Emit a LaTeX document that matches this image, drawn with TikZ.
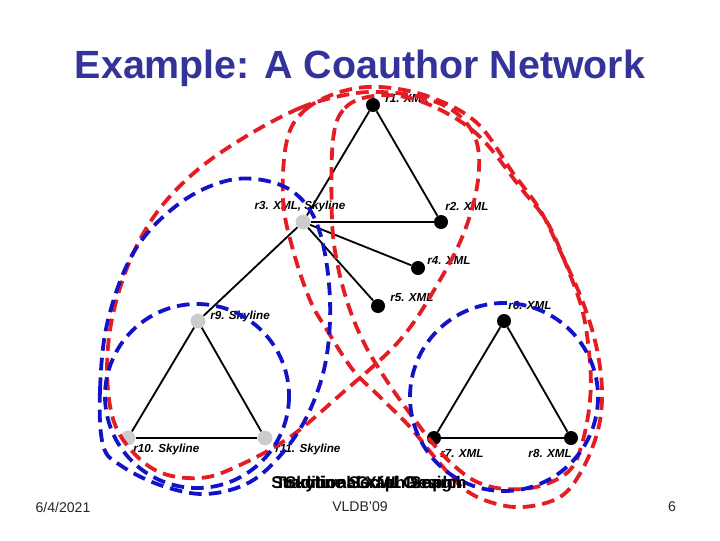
\documentclass[tikz,border=0pt]{standalone}
\usepackage{fontspec}
\setmainfont{Liberation Sans}
\usepackage{xcolor}
\usepackage{tikz}
\usetikzlibrary{positioning}

\definecolor{titleblue}{RGB}{51,51,153}
\definecolor{grpred}{RGB}{228,28,36}
\definecolor{grpblue}{RGB}{18,18,200}

\begin{document}
\begin{tikzpicture}[x=0.025cm, y=-0.025cm,
        xmlnode/.style={circle, fill=black, minimum size=0.35cm, inner sep=0pt},
        skynode/.style={circle, fill=black!20, minimum size=0.37cm, inner sep=0pt},
        lbl/.style={font=\fontsize{8.3}{9}\selectfont\bfseries\itshape, inner sep=0pt},
        edge/.style={line width=1.3pt},
        redgrp/.style={draw=grpred, line width=2.7pt, dash pattern=on 9pt off 5pt},
        bluegrp/.style={draw=grpblue, line width=2.7pt, dash pattern=on 9pt off 5pt},
        foot/.style={font=\fontsize{10}{12}\selectfont, text=black!85},
        mixtxt/.style={font=\fontsize{12}{14}\selectfont\bfseries},
    ]
    \useasboundingbox[fill=white] (0,0) rectangle (720,540);

    \node[font=\fontsize{28}{32}\selectfont\bfseries, text=titleblue] (title) at (360,68) {Example: A Coauthor Network};

    % authors
    \node[xmlnode] (r1) at (373,105) {};
    \node[xmlnode] (r2) at (441,222) {};
    \node[skynode] (r3) at (303,222) {};
    \node[xmlnode] (r4) at (418,268) {};
    \node[xmlnode] (r5) at (378,306) {};
    \node[xmlnode] (r6) at (504,321) {};
    \node[xmlnode] (r7) at (434,438) {};
    \node[xmlnode] (r8) at (571,438) {};
    \node[skynode] (r9) at (198,321) {};
    \node[skynode] (r10) at (128,438) {};
    \node[skynode] (r11) at (265,438) {};

    \node[lbl, anchor=west] (l1) at ([shift={(12,-7)}]r1) {r1. XML};
    \node[lbl, anchor=west] (l2) at ([shift={(4,-16)}]r2) {r2. XML};
    \node[lbl] (l3) at ([shift={(-3,-16)}]r3) {r3. XML, Skyline};
    \node[lbl, anchor=west] (l4) at ([shift={(9,-8)}]r4) {r4. XML};
    \node[lbl, anchor=west] (l5) at ([shift={(12,-8)}]r5) {r5. XML};
    \node[lbl, anchor=west] (l6) at ([shift={(4,-16)}]r6) {r6. XML};
    \node[lbl, anchor=west] (l7) at ([shift={(6,15)}]r7) {r7. XML};
    \node[lbl, anchor=east] (l8) at ([shift={(1,15)}]r8) {r8. XML};
    \node[lbl, anchor=west] (l9) at ([shift={(12,-5)}]r9) {r9. Skyline};
    \node[lbl, anchor=west] (l10) at ([shift={(5,11)}]r10) {r10. Skyline};
    \node[lbl, anchor=west] (l11) at ([shift={(10,11)}]r11) {r11. Skyline};

    % coauthor links
    \draw[edge] (r1) -- (r2);
    \draw[edge] (r1) -- (r3);
    \draw[edge] (r3) -- (r2);
    \draw[edge] (r3) -- (r4);
    \draw[edge] (r3) -- (r5);
    \draw[edge] (r3) -- (r9);
    \draw[edge] (r9) -- (r10);
    \draw[edge] (r9) -- (r11);
    \draw[edge] (r10) -- (r11);
    \draw[edge] (r6) -- (r7);
    \draw[edge] (r6) -- (r8);
    \draw[edge] (r7) -- (r8);

    % result groups
    \draw[redgrp] plot[smooth cycle, tension=0.6] coordinates {
        (345,95) (300,108) (245,137) (195,172) (155,215) (127,268) (110,330)
        (108,390) (120,435) (155,470) (200,478) (240,465) (290,437) (340,395)
        (400,340) (440,280) (465,230) (478,180) (476,140) (455,112) (420,97) (380,92)};
    \draw[redgrp] plot[smooth cycle, tension=0.6] coordinates {
        (287,140) (305,110) (340,92) (380,87) (430,97) (477,123) (513,173)
        (540,210) (562,255) (582,300) (596,345) (602,390) (598,430) (582,470)
        (560,497) (523,507) (490,502) (463,488) (437,460) (410,427) (380,397)
        (353,370) (327,330) (310,300) (293,250) (283,200)};
    \draw[redgrp] plot[smooth cycle, tension=0.6] coordinates {
        (333,140) (345,108) (373,96) (410,98) (450,115) (483,140) (520,187)
        (547,222) (567,267) (583,313) (590,363) (590,400) (583,440) (570,470)
        (540,486) (505,489) (475,481) (450,462) (430,440) (415,420) (400,400)
        (383,375) (365,345) (350,310) (338,267) (332,220)};
    \draw[bluegrp] plot[smooth cycle, tension=0.6] coordinates {
        (103,445) (100,390) (108,320) (135,250) (180,203) (230,180) (275,183)
        (305,203) (322,240) (330,300) (326,360) (310,410) (285,450) (250,482)
        (205,494) (160,485) (120,465)};
    \draw[bluegrp] (197,396) circle[radius=92];
    \draw[bluegrp] (504,397) circle[radius=94];

    % overlapping captions
    \node[mixtxt] (m1) at (369,484) {Structural Graph Search};
    \node[mixtxt] (m2) at (369,484) {Traditional XML Design};
    \node[mixtxt] (m3) at (369,484) {Skyline Social Graph};

    \node[foot] (date) at (63,507) {6/4/2021};
    \node[foot] (conf) at (360,507) {VLDB'09};
    \node[foot] (page) at (672,507) {6};
\end{tikzpicture}
\end{document}
